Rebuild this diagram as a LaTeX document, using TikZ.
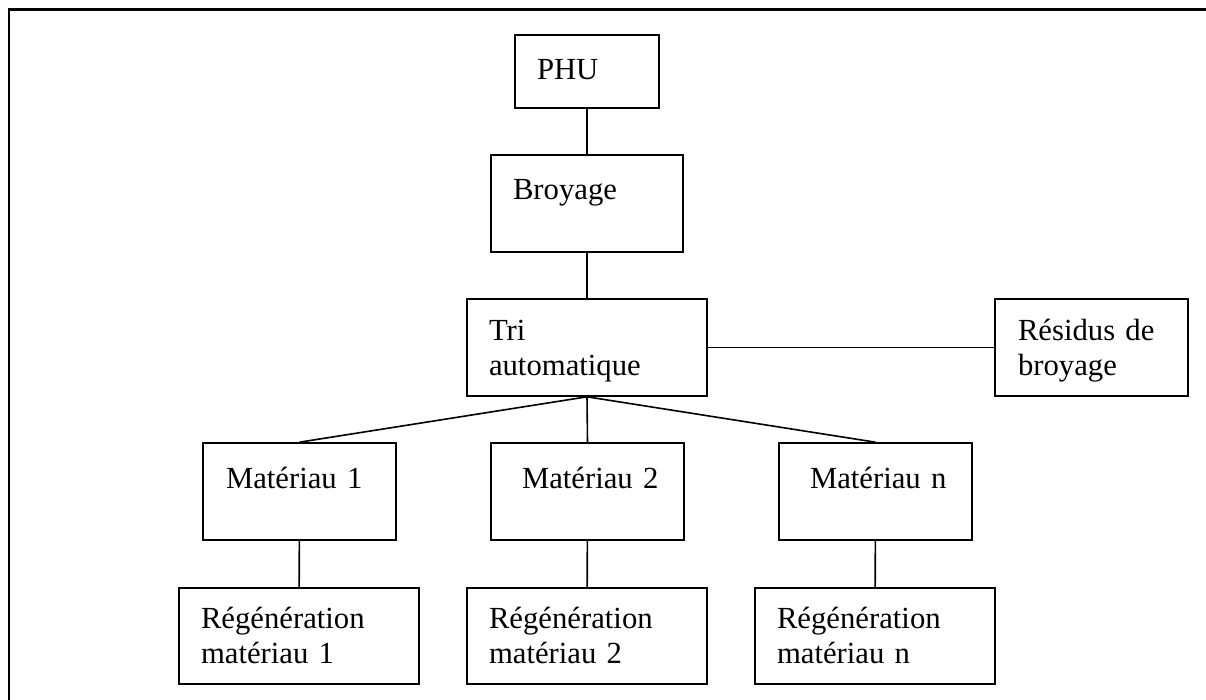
\documentclass[tikz,border=0pt]{standalone}
\usepackage{fontspec}
\setmainfont{Liberation Serif}
\begin{document}
\begin{tikzpicture}[x=1pt,y=-1pt,
  box/.style={draw, line width=1.6pt, rectangle, inner ysep=0pt, align=left,
    font=\fontsize{30.7}{35}\selectfont},
  narrowbox/.style={box, minimum width=193pt, text width=147pt, inner xsep=23pt},
  inboxa/.style={box, text width=131pt, inner xsep=31pt},
  widebox/.style={box, text width=196pt, inner xsep=22pt},
  topline/.style={text height=45pt, text depth=52pt},
  twoline/.style={text height=41pt, text depth=56pt},
  link/.style={line width=1.6pt},
  frameline/.style={line width=2.4pt}]
\useasboundingbox (0,0) rectangle (1206,700);
\coordinate (fa) at (9,700);
\coordinate (fb) at (9,9.5);
\coordinate (fc) at (1206,9.5);
\draw[frameline] (fa) -- (fb) -- (fc);

\node[box, text width=100pt, inner xsep=22pt, text height=45pt, text depth=28pt] (phu) at (587,71.5) {PHU};
\node[box, text width=148pt, inner xsep=22pt, topline] (broy) at (587,203.5) {Broyage};
\node[widebox, twoline] (tri) at (587,347.5) {Tri\\automatique};
\node[narrowbox, twoline] (res) at (1091.5,347.5) {Résidus de\\broyage};
\node[narrowbox, topline] (m1) at (299.5,491.5) {Matériau~1};
\node[inboxa, topline] (m2) at (587.5,491.5) {Matériau~2};
\node[inboxa, topline] (mn) at (875.5,491.5) {Matériau~n};
\node[widebox, text height=40pt, text depth=56pt] (r1) at (299,636) {Régénération\\matériau 1};
\node[widebox, text height=40pt, text depth=56pt] (r2) at (587,636) {Régénération\\matériau 2};
\node[widebox, text height=40pt, text depth=56pt] (rn) at (875,636) {Régénération\\matériau n};

\draw[link] (phu) -- (broy);
\draw[link] (broy) -- (tri);
\draw[link] (tri) -- (res);
\draw[link] (tri.south) -- (m1.north);
\draw[link] (tri.south) -- (m2.north);
\draw[link] (tri.south) -- (mn.north);
\draw[link] (m1) -- (r1);
\draw[link] (m2) -- (r2);
\draw[link] (mn) -- (rn);
\end{tikzpicture}
\end{document}
